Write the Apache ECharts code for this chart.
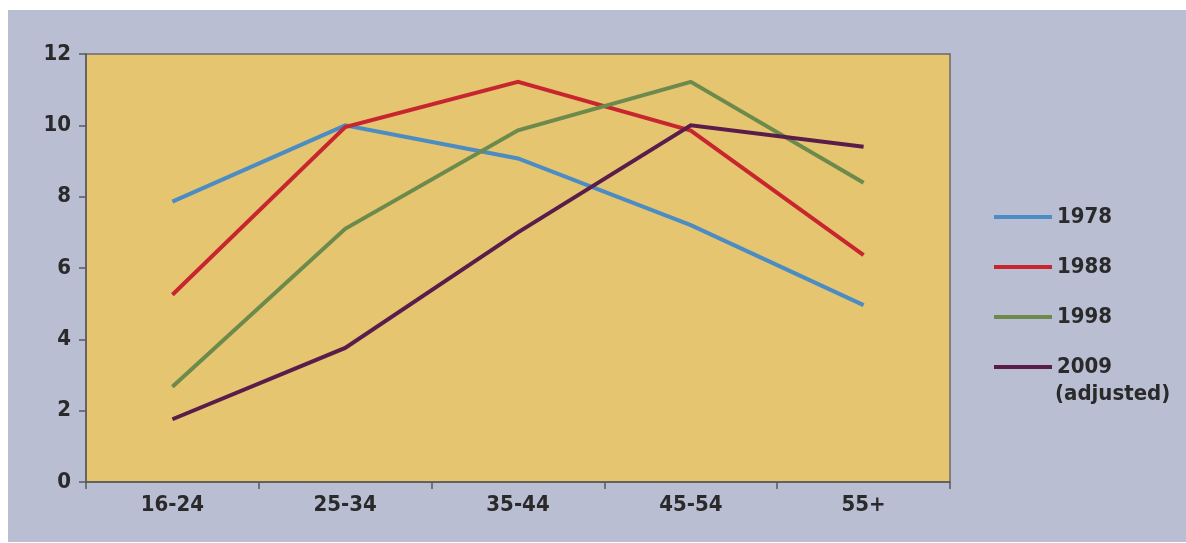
<!DOCTYPE html>
<html>
<head>
<meta charset="utf-8">
<script src="https://cdn.jsdelivr.net/npm/echarts@6/dist/echarts.min.js"></script>
<style>
  html, body { margin: 0; padding: 0; background: #ffffff; }
  #chart { position: absolute; left: 8px; top: 10px; width: 1178px; height: 532px; background: #b9bed3; }
</style>
</head>
<body>
<div id="chart"></div>
<script>
// Age groups along the x axis
const ageGroups = ['16-24', '25-34', '35-44', '45-54', '55+'];

// One line per survey year
const values1978 = [7.86, 10.0, 9.07, 7.2, 4.96];
const values1988 = [5.25, 9.95, 11.22, 9.85, 6.36];
const values1998 = [2.67, 7.1, 9.86, 11.22, 8.39];
const values2009 = [1.76, 3.76, 7.0, 10.0, 9.4];

const seriesNames = ['1978', '1988', '1998', '2009'];
const seriesColors = ['#4a8cc3', '#c8262f', '#6b8a4c', '#5a1c4a'];
const seriesValues = [values1978, values1988, values1998, values2009];

const yTicks = { min: 0, max: 12, interval: 2 };

const chart = echarts.init(document.getElementById('chart'), null, { renderer: 'canvas' });

const textFont = { fontFamily: 'DejaVu Sans Condensed', fontWeight: 'bold', fontSize: 22, color: '#2a2a2a' };
const axisColor = '#5a5a5a';

chart.setOption({
  animation: false,
  grid: {
    left: 78, right: 236, top: 44, bottom: 60,
    show: true,
    backgroundColor: '#e5c56f',
    borderColor: '#6a6a6a',
    borderWidth: 1.5
  },
  legend: {
    orient: 'vertical',
    left: 981,
    top: 186,
    itemWidth: 58,
    itemHeight: 4,
    itemGap: 18,
    icon: 'rect',
    data: seriesNames,
    textStyle: Object.assign({ lineHeight: 32 }, textFont)
  },
  graphic: [{
    type: 'text',
    left: 1047,
    top: 373,
    style: { text: '(adjusted)', font: 'bold 22px "DejaVu Sans Condensed"', fill: '#2a2a2a' }
  }],
  xAxis: {
    type: 'category',
    data: ageGroups,
    boundaryGap: true,
    axisLine: { lineStyle: { color: axisColor, width: 1.5 } },
    axisTick: { show: true, length: 7, lineStyle: { color: axisColor, width: 1.5 } },
    axisLabel: Object.assign({ margin: 12 }, textFont),
    splitLine: { show: false }
  },
  yAxis: {
    type: 'value',
    min: yTicks.min,
    max: yTicks.max,
    interval: yTicks.interval,
    axisLine: { show: true, lineStyle: { color: axisColor, width: 1.5 } },
    axisTick: { show: true, length: 7, lineStyle: { color: axisColor, width: 1.5 } },
    axisLabel: Object.assign({ margin: 15 }, textFont),
    splitLine: { show: false }
  },
  series: seriesNames.map((name, i) => ({
    name: name,
    type: 'line',
    data: seriesValues[i],
    symbol: 'none',
    color: seriesColors[i],
    lineStyle: { width: 4, color: seriesColors[i], join: 'miter' },
    z: 2
  }))
});
</script>
</body>
</html>
